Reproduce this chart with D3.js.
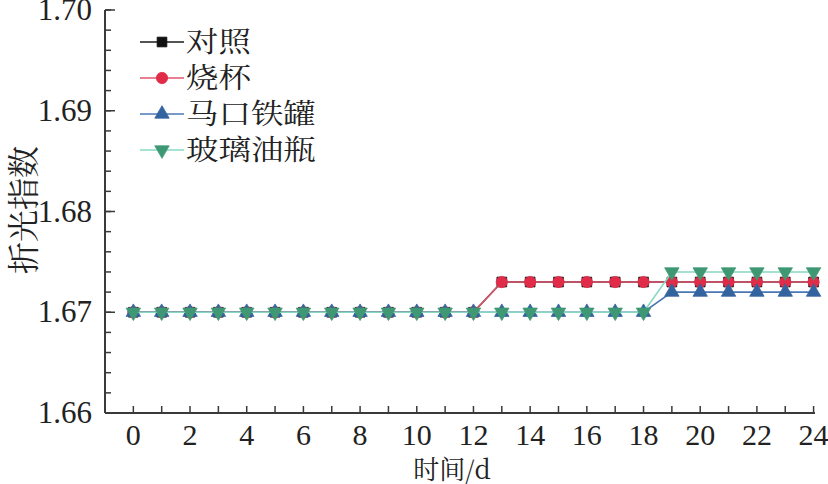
<!DOCTYPE html>
<html>
<head>
<meta charset="utf-8">
<script src="https://cdn.jsdelivr.net/npm/d3@7"></script>
<style>
  html, body { margin: 0; padding: 0; background: #fff; }
  svg { display: block; }
</style>
</head>
<body>
<svg id="chart" width="828" height="484"></svg>
<script>
// Refractive index over storage time for four containers
const days = d3.range(0, 25);
const seriesNames = ["对照", "烧杯", "马口铁罐", "玻璃油瓶"];
const controlValues = [1.670,1.670,1.670,1.670,1.670,1.670,1.670,1.670,1.670,1.670,1.670,1.670,1.670,
                       1.673,1.673,1.673,1.673,1.673,1.673,1.673,1.673,1.673,1.673,1.673,1.673];
const beakerValues  = [1.670,1.670,1.670,1.670,1.670,1.670,1.670,1.670,1.670,1.670,1.670,1.670,1.670,
                       1.673,1.673,1.673,1.673,1.673,1.673,1.673,1.673,1.673,1.673,1.673,1.673];
const tinValues     = [1.670,1.670,1.670,1.670,1.670,1.670,1.670,1.670,1.670,1.670,1.670,1.670,1.670,
                       1.670,1.670,1.670,1.670,1.670,1.670,1.672,1.672,1.672,1.672,1.672,1.672];
const glassValues   = [1.670,1.670,1.670,1.670,1.670,1.670,1.670,1.670,1.670,1.670,1.670,1.670,1.670,
                       1.670,1.670,1.670,1.670,1.670,1.670,1.674,1.674,1.674,1.674,1.674,1.674];
const xTickLabels = [0, 2, 4, 6, 8, 10, 12, 14, 16, 18, 20, 22, 24];
const yTickLabels = [1.66, 1.67, 1.68, 1.69, 1.70];

const seriesStyle = [
  { values: controlValues, line: "#1a1a1a", fill: "#111111", symbol: d3.symbolSquare, size: 95, rotate: 0 },
  { values: beakerValues,  line: "#e0566c", fill: "#e02c48", symbol: d3.symbolCircle, size: 100, rotate: 0 },
  { values: tinValues,     line: "#4a78b4", fill: "#34649f", symbol: d3.symbolTriangle, size: 90, rotate: 0 },
  { values: glassValues,   line: "#86d8c2", fill: "#3f9874", symbol: d3.symbolTriangle, size: 90, rotate: 180 }
];

const svg = d3.select("#chart");
const axisColor = "#3a3a3a";
const numFont = '"Liberation Serif", "Times New Roman", serif';
const cjkFont = '"Noto Serif CJK SC", "Noto Sans CJK SC", serif';

const x = d3.scaleLinear().domain([-1, 24.05]).range([105, 815]);
const y = d3.scaleLinear().domain([1.66, 1.70]).range([413, 10]);

// Axes lines
svg.append("line").attr("x1", x.range()[0]).attr("x2", x.range()[1])
  .attr("y1", y(1.66)).attr("y2", y(1.66))
  .attr("stroke", axisColor).attr("stroke-width", 2);
svg.append("line").attr("x1", x.range()[0]).attr("x2", x.range()[0])
  .attr("y1", y(1.66)).attr("y2", y(1.70))
  .attr("stroke", axisColor).attr("stroke-width", 2);

// X ticks (every day, inward) and labels
const xAxis = svg.append("g");
xAxis.selectAll("line.tick").data(days).enter().append("line")
  .attr("x1", d => x(d)).attr("x2", d => x(d))
  .attr("y1", y(1.66)).attr("y2", y(1.66) - 7)
  .attr("stroke", axisColor).attr("stroke-width", 1.5);
xAxis.selectAll("text").data(xTickLabels).enter().append("text")
  .style("font-family", numFont)
  .attr("x", d => x(d)).attr("y", 445)
  .attr("text-anchor", "middle")
  .attr("font-size", 30)
  .attr("fill", "#222")
  .text(d => d);

// Y ticks: major every 0.01, minor every 0.002
const yMinor = d3.range(0, 21).map(i => 1.66 + i * 0.002);
const yAxis = svg.append("g");
yAxis.selectAll("line.minor").data(yMinor).enter().append("line")
  .attr("x1", x.range()[0]).attr("x2", x.range()[0] + 6)
  .attr("y1", d => y(d)).attr("y2", d => y(d))
  .attr("stroke", axisColor).attr("stroke-width", 1.5);
yAxis.selectAll("line.major").data(yTickLabels).enter().append("line")
  .attr("x1", x.range()[0]).attr("x2", x.range()[0] + 10)
  .attr("y1", d => y(d)).attr("y2", d => y(d))
  .attr("stroke", axisColor).attr("stroke-width", 1.5);
yAxis.selectAll("text").data(yTickLabels).enter().append("text")
  .style("font-family", numFont)
  .attr("x", 92).attr("y", d => y(d) + 10)
  .attr("text-anchor", "end")
  .attr("font-size", 31)
  .attr("fill", "#222")
  .text(d => d.toFixed(2));

// Axis titles
svg.append("text")
  .style("font-family", cjkFont)
  .attr("x", 452).attr("y", 479)
  .attr("text-anchor", "middle")
  .attr("font-size", 26)
  .attr("fill", "#222")
  .text("时间/d");
svg.append("text")
  .style("font-family", cjkFont)
  .attr("transform", "translate(35,210) rotate(-90)")
  .attr("text-anchor", "middle")
  .attr("font-size", 32)
  .attr("fill", "#222")
  .text("折光指数");

// Series lines and markers
const line = d3.line().x((d, i) => x(days[i])).y(d => y(d));
const plot = svg.append("g");
seriesStyle.forEach(s => {
  plot.append("path").datum(s.values)
    .attr("d", line)
    .attr("fill", "none")
    .attr("stroke", s.line)
    .attr("stroke-width", 1.6);
  const sym = d3.symbol().type(s.symbol).size(s.size);
  plot.append("g").selectAll("path").data(s.values).enter().append("path")
    .attr("d", sym)
    .attr("transform", (d, i) => `translate(${x(days[i])},${y(d)}) rotate(${s.rotate})`)
    .attr("fill", s.fill)
    .attr("stroke", s.fill)
    .attr("stroke-width", 0.8);
});

// Legend (labels set slightly wide)
const legend = svg.append("g");
seriesNames.forEach((name, i) => {
  const s = seriesStyle[i];
  const ly = 42 + i * 36;
  legend.append("line").attr("x1", 140).attr("x2", 184)
    .attr("y1", ly).attr("y2", ly)
    .attr("stroke", s.line).attr("stroke-width", 1.6);
  legend.append("path")
    .attr("d", d3.symbol().type(s.symbol).size(s.size)())
    .attr("transform", `translate(162,${ly}) rotate(${s.rotate})`)
    .attr("fill", s.fill).attr("stroke", s.fill).attr("stroke-width", 0.8);
  legend.append("text")
    .style("font-family", cjkFont)
    .attr("transform", `translate(186,${ly + 10}) scale(1.12,1)`)
    .attr("font-size", 29)
    .attr("fill", "#222")
    .text(name);
});
</script>
</body>
</html>
